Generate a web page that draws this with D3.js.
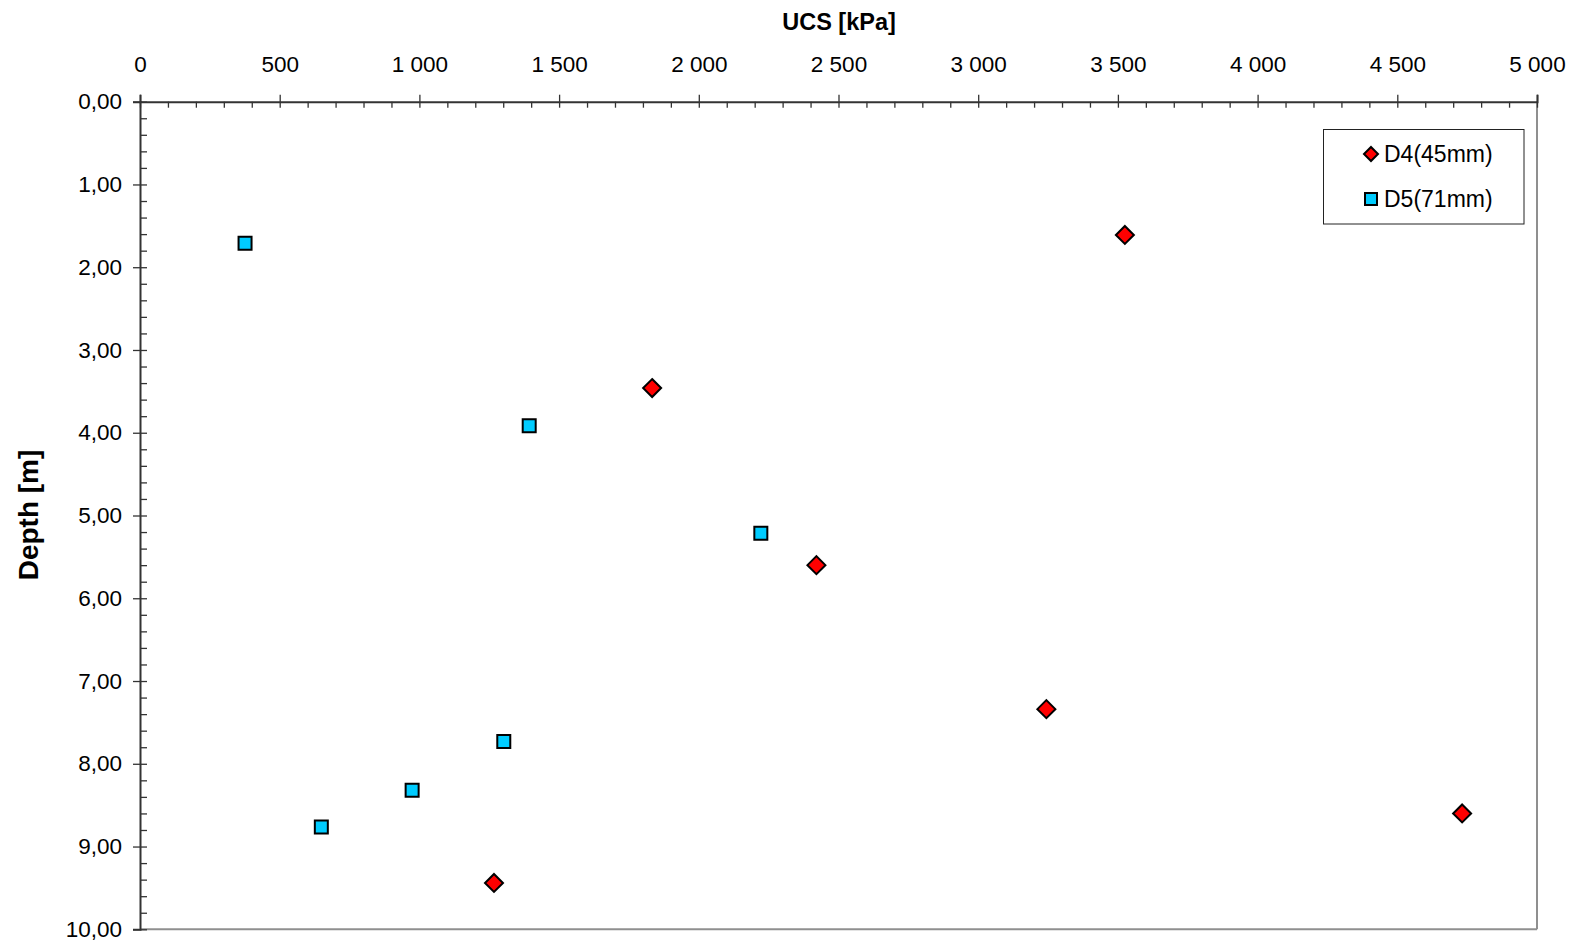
<!DOCTYPE html>
<html>
<head>
<meta charset="utf-8">
<script src="https://cdn.jsdelivr.net/npm/d3@7/dist/d3.min.js"></script>
<style>
  html, body { margin: 0; padding: 0; background: #fff; }
  svg { display: block; font-family: "Liberation Sans", Arial, sans-serif; }
</style>
</head>
<body>
<svg id="chart" width="1571" height="942"></svg>
<script>
// ---- Data ----
const seriesNames = ["D4(45mm)", "D5(71mm)"];
const d4UCS   = [3525, 1833, 2421, 3244, 4732, 1267];
const d4Depth = [1.61, 3.46, 5.60, 7.34, 8.60, 9.44];
const d5UCS   = [376, 1393, 2222, 1302, 974, 649];
const d5Depth = [1.71, 3.915, 5.215, 7.73, 8.32, 8.765];
const xTicks = [0, 500, 1000, 1500, 2000, 2500, 3000, 3500, 4000, 4500, 5000];
const yTicks = [0, 1, 2, 3, 4, 5, 6, 7, 8, 9, 10];
const xTitle = "UCS [kPa]";
const yTitle = "Depth [m]";

// ---- Layout ----
const svg = d3.select("#chart");
const pLeft = 140, pRight = 1537, pTop = 101.7, pBottom = 929.3;
const x = d3.scaleLinear().domain([0, 5000]).range([pLeft, pRight]);
const y = d3.scaleLinear().domain([0, 10]).range([pTop, pBottom]);

const loc = d3.formatLocale({ decimal: ",", thousands: " ", grouping: [3], currency: ["", ""] });
const fx = loc.format(",d");
const fy = loc.format(".2f");

const axisColor = "#333";
const tickFont = 22.5;

// plot border (right & bottom grey)
svg.append("line").attr("x1", pRight).attr("x2", pRight).attr("y1", pTop).attr("y2", pBottom)
  .attr("stroke", "#8f8f8f").attr("stroke-width", 2);
svg.append("line").attr("x1", pLeft).attr("x2", pRight).attr("y1", pBottom).attr("y2", pBottom)
  .attr("stroke", "#8f8f8f").attr("stroke-width", 2);

// minor ticks x
const xMinor = d3.range(0, 5001, 100).filter(v => v % 500 !== 0);
const gxm = svg.append("g").attr("transform", `translate(0,${pTop})`)
  .call(d3.axisTop(x).tickValues(xMinor).tickSize(-6).tickFormat(""));
gxm.select(".domain").remove();
gxm.selectAll("line").attr("stroke", axisColor).attr("stroke-width", 1.3);

// major x axis
const gx = svg.append("g").attr("transform", `translate(0,${pTop})`)
  .call(d3.axisTop(x).tickValues(xTicks).tickSizeOuter(0).tickSize(7).tickPadding(23).tickFormat(fx));
gx.select(".domain").attr("stroke", axisColor).attr("stroke-width", 2);
gx.selectAll(".tick line").attr("y1", 6).attr("y2", -7).attr("stroke", axisColor).attr("stroke-width", 1.3);
gx.selectAll(".tick text").attr("font-size", tickFont).attr("fill", "#000")
  .attr("font-family", "Liberation Sans, Arial, sans-serif");

// minor ticks y
const yMinor = d3.range(0, 10.001, 0.2).filter(v => Math.abs(v - Math.round(v)) > 1e-6);
const gym = svg.append("g").attr("transform", `translate(${pLeft},0)`)
  .call(d3.axisLeft(y).tickValues(yMinor).tickSize(-7).tickFormat(""));
gym.select(".domain").remove();
gym.selectAll("line").attr("stroke", axisColor).attr("stroke-width", 1.3);

// major y axis
const gy = svg.append("g").attr("transform", `translate(${pLeft},0)`)
  .call(d3.axisLeft(y).tickValues(yTicks).tickSizeOuter(0).tickSize(7).tickPadding(11).tickFormat(fy));
gy.select(".domain").attr("stroke", axisColor).attr("stroke-width", 2);
gy.selectAll(".tick line").attr("x1", 7).attr("x2", -7).attr("stroke", axisColor).attr("stroke-width", 1.3);
gy.selectAll(".tick text").attr("font-size", tickFont).attr("fill", "#000")
  .attr("font-family", "Liberation Sans, Arial, sans-serif");

// titles
svg.append("text").attr("x", 839).attr("y", 30).attr("text-anchor", "middle")
  .attr("font-size", 23.5).attr("font-weight", "bold").text(xTitle);
svg.append("text").attr("transform", "translate(38,515) rotate(-90)").attr("text-anchor", "middle")
  .attr("font-size", 28).attr("font-weight", "bold").text(yTitle);

// symbols
const diamond = s => `M0,${-s}L${s},0L0,${s}L${-s},0Z`;
const square = s => `M${-s},${-s}H${s}V${s}H${-s}Z`;

const d4 = d4UCS.map((v, i) => ({ u: v, d: d4Depth[i] }));
const d5 = d5UCS.map((v, i) => ({ u: v, d: d5Depth[i] }));

svg.append("g").selectAll("path").data(d4).join("path")
  .attr("transform", p => `translate(${x(p.u)},${y(p.d)})`)
  .attr("d", diamond(9)).attr("fill", "#ff0000").attr("stroke", "#000").attr("stroke-width", 2);
svg.append("g").selectAll("path").data(d5).join("path")
  .attr("transform", p => `translate(${x(p.u)},${y(p.d)})`)
  .attr("d", square(6.5)).attr("fill", "#00ccff").attr("stroke", "#000").attr("stroke-width", 2);

// legend
const lg = svg.append("g");
lg.append("rect").attr("x", 1323.5).attr("y", 129.5).attr("width", 200.5).attr("height", 94.5)
  .attr("fill", "#fff").attr("stroke", "#222").attr("stroke-width", 1);
const legendItems = [
  { name: seriesNames[0], shape: diamond(7), fill: "#ff0000", cy: 154 },
  { name: seriesNames[1], shape: square(6), fill: "#00ccff", cy: 199 }
];
legendItems.forEach(it => {
  lg.append("path").attr("transform", `translate(1371,${it.cy})`).attr("d", it.shape)
    .attr("fill", it.fill).attr("stroke", "#000").attr("stroke-width", 2);
  lg.append("text").attr("x", 1384).attr("y", it.cy).attr("dy", "0.35em")
    .attr("font-size", 23).text(it.name);
});
</script>
</body>
</html>
